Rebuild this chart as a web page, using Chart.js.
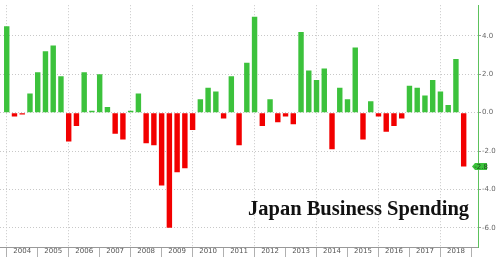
<!DOCTYPE html>
<html>
<head>
<meta charset="utf-8">
<script src="https://cdn.jsdelivr.net/npm/chart.js@4"></script>
<style>
  html, body { margin: 0; padding: 0; background: #fff; }
  #wrap { width: 500px; height: 258px; }
</style>
</head>
<body>
<div id="wrap"><canvas id="spend"></canvas></div>
<script>
'use strict';

// quarterly change, first bar is Q4 2003 (sits on the 2004 boundary)
var firstYear = 2004;
var spending = [
  4.5, -0.2, -0.1, 1.0, 2.1, 3.2, 3.5, 1.9,
  -1.5, -0.7, 2.1, 0.1, 2.0, 0.3, -1.1, -1.4,
  0.1, 1.0, -1.6, -1.7, -3.8, -6.0, -3.1, -2.9,
  -0.9, 0.7, 1.3, 1.1, -0.3, 1.9, -1.7, 2.6,
  5.0, -0.7, 0.7, -0.5, -0.2, -0.6, 4.2, 2.2,
  1.7, 2.3, -1.9, 1.3, 0.7, 3.4, -1.4, 0.6,
  -0.2, -1.0, -0.7, -0.3, 1.4, 1.3, 0.9, 1.7,
  1.1, 0.4, 2.8, -2.8
];
var yTicks = [4, 2, 0, -2, -4, -6];
var chartTitle = 'Japan Business Spending';

var points = spending.map(function (v, i) { return { x: i, y: v }; });
var lastValue = spending[spending.length - 1];

// title and last value tag
const extras = {
  id: 'extras',
  afterDraw(chart) {
    const ctx = chart.ctx;
    const y = chart.scales.y;
    ctx.save();
    ctx.font = 'bold 20.5px "Liberation Serif", serif';
    ctx.fillStyle = '#111';
    ctx.textBaseline = 'alphabetic';
    ctx.fillText(chartTitle, 248, 215);

    const py = y.getPixelForValue(lastValue);
    ctx.fillStyle = '#3cc23c';
    ctx.beginPath();
    ctx.moveTo(472, py);
    ctx.lineTo(475, py - 3.5);
    ctx.lineTo(487, py - 3.5);
    ctx.lineTo(487, py + 3.5);
    ctx.lineTo(475, py + 3.5);
    ctx.closePath();
    ctx.fill();
    ctx.fillStyle = '#1c4a1c';
    ctx.font = '7px "DejaVu Sans", sans-serif';
    ctx.textBaseline = 'middle';
    ctx.textAlign = 'center';
    ctx.fillText(lastValue.toFixed(1), 481, py + 0.5);
    ctx.restore();
  }
};

const ctx = document.getElementById('spend');

window.spendGraph = new Chart(ctx, {
  type: 'bar',
  data: {
    datasets: [{
      data: points,
      backgroundColor: spending.map(v => v >= 0 ? '#3cc23c' : '#f20000'),
      borderWidth: 0,
      barPercentage: 0.7,
      categoryPercentage: 1
    }]
  },
  options: {
    responsive: true,
    maintainAspectRatio: false,
    animation: false,
    layout: { padding: 0 },
    plugins: {
      legend: { display: false },
      tooltip: { enabled: false }
    },
    scales: {
      x: {
        type: 'linear',
        offset: false,
        min: -0.87,
        max: 60.85,
        afterBuildTicks: function (scale) {
          var t = [];
          for (var i = 0; i <= 60; i++) t.push({ value: i });
          scale.ticks = t;
        },
        afterFit: function (scale) {
          scale.height = 11;
          scale.paddingLeft = 0;
          scale.paddingRight = 0;
        },
        ticks: {
          autoSkip: false,
          maxRotation: 0,
          padding: -10,
          color: '#555',
          font: { size: 7, family: 'DejaVu Sans' },
          callback: function (v) {
            if (v % 4 === 2 && v < 60) return String(firstYear + (v - 2) / 4);
            return '';
          }
        },
        grid: {
          offset: false,
          color: function (c) {
            return c.tick && c.tick.value % 8 === 0 ? '#c8c8c8' : 'rgba(0,0,0,0)';
          },
          tickColor: function (c) {
            return c.tick && c.tick.value % 4 === 0 ? '#b0b0b0' : 'rgba(0,0,0,0)';
          },
          tickLength: 10,
          tickBorderDash: [10, 0],
          lineWidth: 1
        },
        border: { color: '#999', dash: [1, 2] }
      },
      y: {
        position: 'right',
        min: -7,
        max: 5.6,
        afterBuildTicks: function (scale) {
          scale.ticks = yTicks.map(v => ({ value: v }));
        },
        afterFit: function (scale) { scale.width = 22; },
        ticks: {
          padding: 1,
          color: '#666',
          font: { size: 7, family: 'DejaVu Sans' },
          callback: function (v) { return v.toFixed(1); }
        },
        grid: {
          color: '#c8c8c8',
          tickColor: '#999',
          tickLength: 3,
          tickBorderDash: [10, 0]
        },
        border: { color: '#5cc25c', dash: [1, 2] }
      }
    }
  },
  plugins: [extras]
});
</script>
</body>
</html>
